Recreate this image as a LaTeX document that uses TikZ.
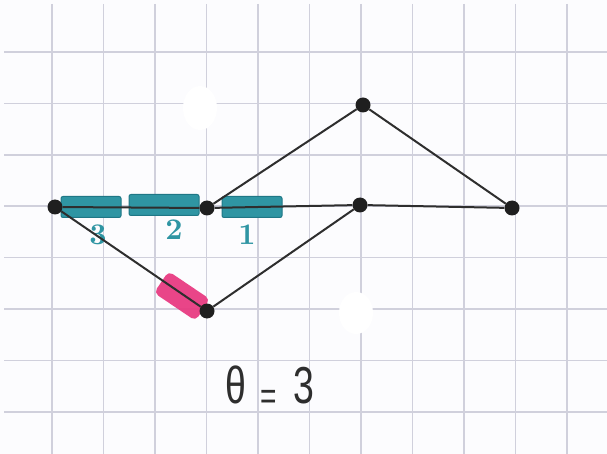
\documentclass[tikz,border=0pt]{standalone}
\usepackage{fontspec}
\usepackage{graphicx}
\newfontfamily\capfont{Liberation Sans}
\usetikzlibrary{shapes.geometric}
\definecolor{paper}{HTML}{FCFCFE}
\definecolor{gridc}{HTML}{D0D0DC}
\definecolor{teal1}{HTML}{2F95A3}
\definecolor{teal2}{HTML}{1F7786}
\definecolor{pinkm}{HTML}{E8367E}
\definecolor{ink}{HTML}{2E2E2E}
\tikzset{
  gridline/.style={draw=gridc, line width=1.6pt},
  dot/.style={circle, fill=black!88, inner sep=0pt, minimum size=15pt},
  edge/.style={draw=ink, line width=2pt},
  tealbox/.style={rectangle, fill=teal1, draw=teal2, line width=1pt, rounded corners=2pt, inner sep=0pt, minimum height=21pt},
  teallabel/.style={text=teal1, font=\bfseries, scale=3},
  pinkblob/.style={rectangle, fill=pinkm, rounded corners=5pt, inner sep=0pt, minimum width=50pt, minimum height=26pt, opacity=0.92},
}
\begin{document}
\begin{tikzpicture}[x=1pt,y=-1pt]
\fill[paper] (0,0) rectangle (607,454);
\useasboundingbox (0,0) rectangle (607,454);
% grid
\foreach \k in {0,...,10} \draw[gridline] ({52+51.5*\k},4) -- ({52+51.5*\k},454);
\foreach \k in {0,...,7} \draw[gridline] (4,{52+51.4*\k}) -- (607,{52+51.4*\k});
% white correction marks
\fill[white] (200,108) ellipse (17pt and 22pt);
\fill[white] (356,313) ellipse (17pt and 21pt);
% coloured markings
\node[tealbox, minimum width=60pt] (b3) at (91,207) {};
\node[tealbox, minimum width=70pt] (b2) at (164,205) {};
\node[tealbox, minimum width=60pt] (b1) at (252,207) {};
\node[teallabel] (l3) at (98,235) {3};
\node[teallabel] (l2) at (174,230) {2};
\node[teallabel] (l1) at (247,235) {1};
\node[pinkblob, rotate=-34] (pk) at (182,296) {};
% vertices
\node[dot] (A) at (55,207) {};
\node[dot] (B) at (207,208) {};
\node[dot] (C) at (360,205) {};
\node[dot] (D) at (512,208) {};
\node[dot] (E) at (363,105) {};
\node[dot] (F) at (207,311) {};
% edges
\draw[edge] (A) -- (B) -- (C) -- (D);
\draw[edge] (B) -- (E) -- (D);
\draw[edge] (A) -- (F) -- (C);
% caption
\node[text=ink, xscale=0.72, inner sep=0pt] (cap) at (270,388) {\capfont\fontsize{52}{56}\selectfont θ\hspace{0.36em}\raisebox{-0.12em}{\scalebox{0.75}{=}}\hspace{0.45em}3};
\end{tikzpicture}
\end{document}
